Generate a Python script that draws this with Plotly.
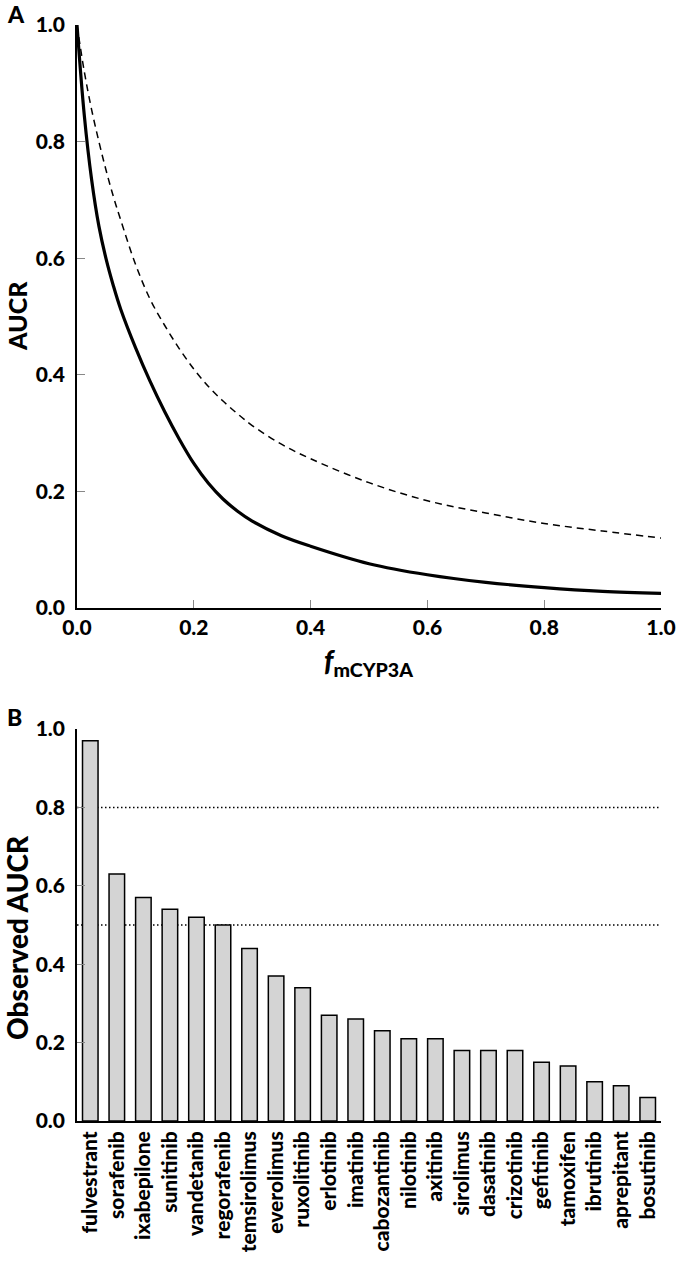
import plotly.graph_objects as go

# Panel A: model curves
fm_points = [0, 0.0125, 0.025, 0.0375, 0.05, 0.0625, 0.075, 0.1, 0.125, 0.15, 0.175, 0.2, 0.225, 0.25, 0.275,
             0.3, 0.35, 0.4, 0.5, 0.6, 0.7, 0.8, 0.9, 1.0]
aucr_solid = [1.0, 0.845, 0.735, 0.655, 0.598, 0.552, 0.512, 0.447, 0.389, 0.337, 0.290, 0.248, 0.214, 0.187, 0.166,
              0.149, 0.124, 0.106, 0.076, 0.057, 0.044, 0.035, 0.0285, 0.025]
aucr_dashed = [1.0, 0.92, 0.855, 0.80, 0.75, 0.705, 0.665, 0.59, 0.53, 0.485, 0.445, 0.41, 0.38, 0.355, 0.333,
               0.313, 0.281, 0.256, 0.215, 0.184, 0.163, 0.145, 0.132, 0.12]

# Panel B: observed AUCR
drugs = ["fulvestrant", "sorafenib", "ixabepilone", "sunitinib", "vandetanib", "regorafenib",
         "temsirolimus", "everolimus", "ruxolitinib", "erlotinib", "imatinib", "cabozantinib",
         "nilotinib", "axitinib", "sirolimus", "dasatinib", "crizotinib", "gefitinib",
         "tamoxifen", "ibrutinib", "aprepitant", "bosutinib"]
observed_aucr = [0.97, 0.63, 0.57, 0.54, 0.52, 0.50, 0.44, 0.37, 0.34, 0.27, 0.26, 0.23,
                 0.21, 0.21, 0.18, 0.18, 0.18, 0.15, 0.14, 0.10, 0.09, 0.06]
reference_lines = [0.8, 0.5]
ticks = [0.0, 0.2, 0.4, 0.6, 0.8, 1.0]
tick_text = ["0.0", "0.2", "0.4", "0.6", "0.8", "1.0"]

W, H = 676, 1266
FONT = "Lato"

def px_x(p):
    return p / W

def px_y(p):
    return 1 - p / H

fig = go.Figure()

fig.add_trace(go.Scatter(x=fm_points, y=aucr_dashed, mode="lines",
                         line=dict(color="black", width=1.5, dash="7px,5px", shape="spline", smoothing=1.0),
                         xaxis="x", yaxis="y", showlegend=False))
fig.add_trace(go.Scatter(x=fm_points, y=aucr_solid, mode="lines",
                         line=dict(color="black", width=3.2, shape="spline", smoothing=1.0),
                         xaxis="x", yaxis="y", showlegend=False))

fig.add_trace(go.Bar(x=drugs, y=observed_aucr, marker=dict(color="#d4d4d4", line=dict(color="black", width=1.5)),
                     xaxis="x2", yaxis="y2", showlegend=False))

for v in reference_lines:
    fig.add_shape(type="line", xref="x2 domain", yref="y2", x0=0, x1=1, y0=v, y1=v,
                  line=dict(color="black", width=1.5, dash="1.5px,2.5px"), layer="below")

tickfont = dict(family=FONT, size=21, color="black", weight=900)

common = dict(showline=True, linecolor="black", linewidth=1.6, showgrid=False, zeroline=False, automargin=False)
yt = dict(tickvals=ticks, ticktext=tick_text, ticks="inside", ticklen=8, tickwidth=1, tickcolor="#888",
          tickfont=tickfont, ticklabelstandoff=6)

xdom = [px_x(77), px_x(661)]
fig.update_layout(
    template="none",
    width=W, height=H, margin=dict(l=0, r=0, t=0, b=0, pad=0, autoexpand=False),
    paper_bgcolor="white", plot_bgcolor="white",
    bargap=0.415, showlegend=False,
    xaxis=dict(domain=xdom, range=[0, 1], anchor="y", tickvals=ticks, ticktext=tick_text,
               ticks="inside", ticklen=8, tickwidth=1, tickcolor="#888", tickfont=tickfont,
               ticklabelstandoff=0, **common),
    yaxis=dict(domain=[px_y(608), px_y(25)], range=[0, 1], anchor="x", **yt, **common),
    xaxis2=dict(domain=xdom, range=[-0.5, len(drugs) - 0.5], anchor="y2", ticks="", tickangle=-90,
                tickfont=dict(family=FONT, size=21, color="black", weight=900), **common),
    yaxis2=dict(domain=[px_y(1121), px_y(729)], range=[0, 1], anchor="x2", **yt, **common),
)

ann_font = dict(family=FONT, size=23, color="black", weight=900)
fig.add_annotation(text="A", x=px_x(5), y=px_y(14), xref="paper", yref="paper", xanchor="left", yanchor="middle",
                   showarrow=False, font=ann_font)
fig.add_annotation(text="B", x=px_x(5), y=px_y(717), xref="paper", yref="paper", xanchor="left", yanchor="middle",
                   showarrow=False, font=ann_font)
fig.add_annotation(text="AUCR", x=px_x(17), y=px_y(316), xref="paper", yref="paper", textangle=-90,
                   xanchor="center", yanchor="middle", showarrow=False,
                   font=dict(family=FONT, size=25, color="black", weight=900))
fig.add_annotation(text="Observed AUCR", x=px_x(17), y=px_y(938), xref="paper", yref="paper", textangle=-90,
                   xanchor="center", yanchor="middle", showarrow=False,
                   font=dict(family=FONT, size=28, color="black", weight=900))
fig.add_annotation(text="<i>f</i><sub>mCYP3A</sub>", x=px_x(369), y=px_y(662), xref="paper", yref="paper",
                   xanchor="center", yanchor="middle", showarrow=False,
                   font=dict(family=FONT, size=28, color="black", weight=900))

fig.write_html("out.html", config={"displayModeBar": False},
               post_script="document.body.style.margin='0';document.body.style.padding='0';")
